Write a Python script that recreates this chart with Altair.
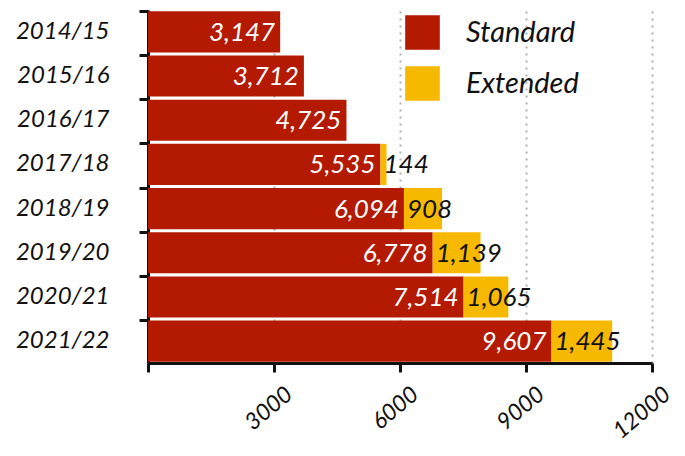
import altair as alt
import pandas as pd

years = ["2014/15", "2015/16", "2016/17", "2017/18", "2018/19", "2019/20", "2020/21", "2021/22"]
standard = [3147, 3712, 4725, 5535, 6094, 6778, 7514, 9607]
extended = [None, None, None, 144, 908, 1139, 1065, 1445]
series = ["Standard", "Extended"]
colors = ["#b31a00", "#f7b900"]
x_ticks = [0, 3000, 6000, 9000, 12000]

FONT = "Lato"

rows = []
for y, s, e in zip(years, standard, extended):
    rows.append({"year": y, "type": "Standard", "value": s, "ord": 0})
    if e is not None:
        rows.append({"year": y, "type": "Extended", "value": e, "ord": 1})
long_df = pd.DataFrame(rows)

lab = pd.DataFrame({"year": years, "standard": standard, "extended": extended})
lab["std_txt"] = [f"{v:,}" for v in standard]
lab["ext_txt"] = [f"{v:,}" if v is not None else "" for v in extended]
ext_lab = lab[lab["extended"].notna()]

yenc = alt.Y("year:N", sort=years, title=None,
             scale=alt.Scale(paddingInner=0.07, paddingOuter=0.03),
             axis=alt.Axis(bandPosition=0, labelFont=FONT, labelFontStyle="italic",
                           labelFontSize=24, labelColor="#111", labelPadding=30,
                           tickSize=9, tickWidth=3, tickColor="#111",
                           domainWidth=3, domainColor="#111",
                           minExtent=140, maxExtent=140, grid=False, labelLimit=200))

bars = alt.Chart(long_df).mark_bar().encode(
    x=alt.X("value:Q", stack="zero", title=None,
            scale=alt.Scale(domain=[0, 12000], nice=False),
            axis=alt.Axis(values=x_ticks, labelAngle=-40, labelFont=FONT,
                          labelExpr="datum.value == 0 ? '' : format(datum.value, 'd')",
                          labelAlign="right", labelBaseline="middle", labelOffset=15,
                          labelFontStyle="italic", labelFontSize=23, labelColor="#111",
                          labelPadding=19, tickSize=9, tickWidth=3, tickColor="#111",
                          domainWidth=3, domainColor="#111",
                          grid=True, gridDash=[2, 5], gridColor="#b0b0b0", gridWidth=2,
                          labelOverlap=False, labelFlush=False)),
    y=yenc,
    color=alt.Color("type:N", sort=series,
                    scale=alt.Scale(domain=series, range=colors),
                    legend=alt.Legend(title=None, orient="none", legendX=257, legendY=5,
                                      symbolType="square", symbolSize=1200,
                                      symbolStrokeWidth=0, labelFont=FONT,
                                      labelFontStyle="italic", labelFontSize=29,
                                      labelColor="#111", labelOffset=26, rowPadding=16)),
    order=alt.Order("ord:Q"),
)

std_text = alt.Chart(lab).mark_text(
    align="right", baseline="middle", dx=-5, dy=1, color="white",
    font=FONT, fontStyle="italic", fontSize=26,
).encode(x="standard:Q", y=alt.Y("year:N", sort=years), text="std_txt:N")

ext_text = alt.Chart(ext_lab).mark_text(
    align="left", baseline="middle", dx=3, dy=1, color="#111",
    font=FONT, fontStyle="italic", fontSize=26,
).encode(x="standard:Q", y=alt.Y("year:N", sort=years), text="ext_txt:N")

chart = alt.layer(bars, std_text, ext_text).properties(
    width=504, height=353,
    padding={"left": 0, "top": 1, "right": 0, "bottom": 0},
).configure_view(stroke=None)

chart.save("out.html", embed_options={"renderer": "svg", "actions": False})
